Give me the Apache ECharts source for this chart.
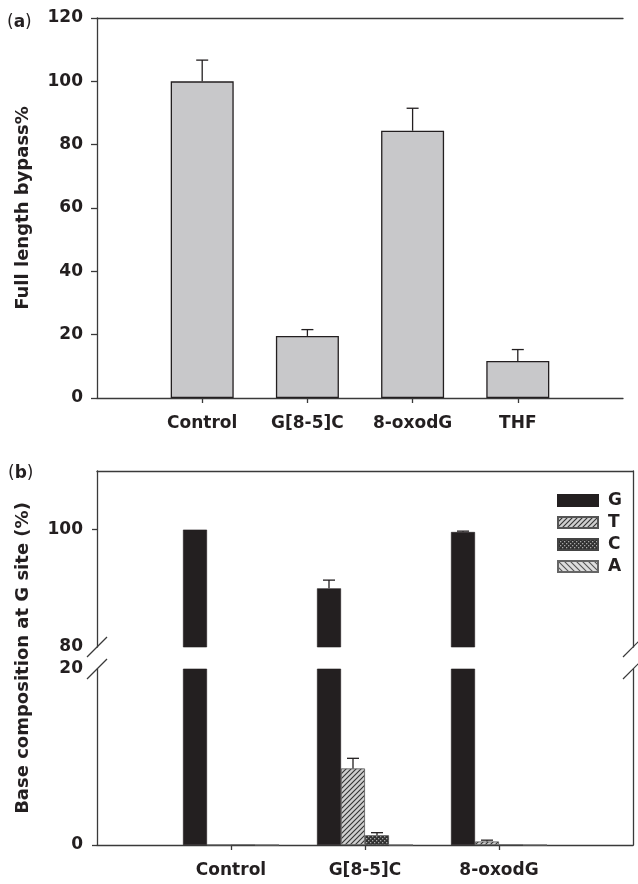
<!DOCTYPE html>
<html><head><meta charset="utf-8">
<script src="https://cdn.jsdelivr.net/npm/echarts@6/dist/echarts.min.js"></script>
<style>html,body{margin:0;padding:0;background:#fff}#c{width:638px;height:884px}</style>
</head><body><div id="c"></div>
<script>
// ---------- data ----------
const catsA = ['Control', 'G[8-5]C', '8-oxodG', 'THF'];
const bypassMean = [100, 19.6, 84.4, 11.7];
const bypassTop = [106.7, 21.6, 91.5, 15.3];
const ticksA = [0, 20, 40, 60, 80, 100, 120];

const catsB = ['Control', 'G[8-5]C', '8-oxodG'];
const bases = ['G', 'T', 'C', 'A'];
const baseG = [100, 90.0, 99.6];
const baseT = [0, 8.7, 0.4];
const baseC = [0, 1.1, 0];
const baseA = [0, 0, 0];
const topG = [100, 91.4, 99.75];
const topT = [0, 9.85, 0.55];
const topC = [0, 1.4, 0];
const topA = [0, 0, 0];
const upperLabels = [80, 100];
const lowerLabels = [0, 20];

// ---------- layout / style ----------
const INK = '#231f20';
const FONT = 'DejaVu Sans';
const FS = 17;
const L = 97;
const A_TOP = 18, A_BOT = 398, A_RIGHT = 623;
const B_TOP = 471, B_MID1 = 647, B_MID2 = 669, B_BOT = 845, B_RIGHT = 633;
const BW = 24;

function pattern(kind) {
  const s = kind === 'C' ? 4 : (kind === 'T' ? 5 : 6);
  const c = document.createElement('canvas'); c.width = c.height = s;
  const g = c.getContext('2d');
  if (kind === 'C') {
    g.fillStyle = '#303030'; g.fillRect(0, 0, s, s);
    g.fillStyle = '#a8a8a8'; g.fillRect(0, 0, 1.3, 1.3); g.fillRect(2, 2, 1.3, 1.3);
  } else {
    g.fillStyle = kind === 'T' ? '#cfcfcf' : '#dedede'; g.fillRect(0, 0, s, s);
    g.strokeStyle = kind === 'T' ? '#333' : '#555'; g.lineWidth = 1.1;
    g.beginPath();
    if (kind === 'T') {
      g.moveTo(-1, s + 1); g.lineTo(s + 1, -1);
      g.moveTo(-1, 1); g.lineTo(1, -1);
      g.moveTo(s - 1, s + 1); g.lineTo(s + 1, s - 1);
    } else {
      g.moveTo(-1, -1); g.lineTo(s + 1, s + 1);
      g.moveTo(s - 1, -1); g.lineTo(s + 1, 1);
      g.moveTo(-1, s - 1); g.lineTo(1, s + 1);
    }
    g.stroke();
  }
  return { image: c, repeat: 'repeat' };
}
const fills = { G: INK, T: pattern('T'), C: pattern('C'), A: pattern('A') };
const borders = { G: INK, T: '#555', C: '#444', A: '#666' };
const valsB = { G: baseG, T: baseT, C: baseC, A: baseA };
const topsB = { G: topG, T: topT, C: topC, A: topA };

const padA = [''].concat(catsA, ['']);
const padB = [''].concat(catsB, ['']);
const lineStyle = { color: '#3a3a3a', width: 1.3 };
const labelStyle = { fontFamily: FONT, fontWeight: 'bold', fontSize: FS, color: INK };

function errRender(pos, n, bw, cap) {
  return function (params, api) {
    const x = api.value(0), v = api.value(1), hi = api.value(2);
    if (!(hi > v)) return { type: 'group', children: [] };
    const p1 = api.coord([x, v]), p2 = api.coord([x, hi]);
    const cx = p1[0] + (pos - (n - 1) / 2) * bw;
    const st = { stroke: INK, lineWidth: 1.3 };
    return { type: 'group', children: [
      { type: 'line', shape: { x1: cx, y1: p1[1], x2: cx, y2: p2[1] }, style: st },
      { type: 'line', shape: { x1: cx - cap / 2, y1: p2[1], x2: cx + cap / 2, y2: p2[1] }, style: st }
    ]};
  };
}

const catTickFn = (n) => (i) => i >= 1 && i <= n;

const xAxis = [
  { gridIndex: 0, type: 'category', data: padA, boundaryGap: false, position: 'bottom',
    axisLine: { lineStyle }, axisTick: { length: 5, lineStyle, interval: catTickFn(catsA.length) },
    axisLabel: Object.assign({ margin: 17, interval: 0 }, labelStyle), splitLine: { show: false } },
  { gridIndex: 0, type: 'category', data: padA, boundaryGap: false, position: 'top',
    axisLine: { lineStyle }, axisTick: { show: false }, axisLabel: { show: false } },
  { gridIndex: 1, type: 'category', data: padB, boundaryGap: false, position: 'top',
    axisLine: { lineStyle }, axisTick: { show: false }, axisLabel: { show: false } },
  { gridIndex: 2, type: 'category', data: padB, boundaryGap: false, position: 'bottom',
    axisLine: { lineStyle }, axisTick: { length: 5, lineStyle, interval: catTickFn(catsB.length) },
    axisLabel: Object.assign({ margin: 17, interval: 0 }, labelStyle) }
];
const yAxis = [
  { gridIndex: 0, type: 'value', min: ticksA[0], max: ticksA[ticksA.length - 1], interval: 20, position: 'left',
    axisLine: { show: true, lineStyle }, axisTick: { show: true, length: 6, lineStyle },
    axisLabel: Object.assign({ margin: 14 }, labelStyle), splitLine: { show: false } },
  { gridIndex: 1, type: 'value', min: 80, max: 110, position: 'left',
    axisLine: { show: true, lineStyle }, axisTick: { show: true, length: 5, lineStyle, customValues: [100] },
    axisLabel: Object.assign({ margin: 14, customValues: upperLabels }, labelStyle), splitLine: { show: false } },
  { gridIndex: 1, type: 'value', min: 80, max: 110, position: 'right',
    axisLine: { show: true, lineStyle }, axisTick: { show: false }, axisLabel: { show: false }, splitLine: { show: false } },
  { gridIndex: 2, type: 'value', min: 0, max: 20, position: 'left',
    axisLine: { show: true, lineStyle }, axisTick: { show: true, length: 5, lineStyle, customValues: [0] },
    axisLabel: Object.assign({ margin: 14, customValues: lowerLabels }, labelStyle), splitLine: { show: false } },
  { gridIndex: 2, type: 'value', min: 0, max: 20, position: 'right',
    axisLine: { show: true, lineStyle }, axisTick: { show: false }, axisLabel: { show: false }, splitLine: { show: false } }
];

const series = [
  { name: 'bypass', type: 'bar', xAxisIndex: 0, yAxisIndex: 0, barWidth: 63,
    data: bypassMean.map((v, i) => [i + 1, v]),
    itemStyle: { color: '#c8c8ca', borderColor: INK, borderWidth: 1.3 } },
  { type: 'custom', xAxisIndex: 0, yAxisIndex: 0, z: 5, renderItem: errRender(0, 1, 0, 12),
    data: bypassMean.map((v, i) => [i + 1, v, bypassTop[i]]) }
];
[[2, 1], [3, 3]].forEach(([xi, yi]) => {
  bases.forEach((b, k) => {
    series.push({ name: b, type: 'bar', xAxisIndex: xi, yAxisIndex: yi, barWidth: BW, barGap: '0%',
      data: valsB[b].map((v, i) => [i + 1, v]),
      itemStyle: { color: fills[b], borderColor: borders[b], borderWidth: b === 'G' ? 0.6 : 0.8 } });
  });
  bases.forEach((b, k) => {
    series.push({ type: 'custom', xAxisIndex: xi, yAxisIndex: yi, z: 5, clip: true,
      renderItem: errRender(k, bases.length, BW, 12),
      data: valsB[b].map((v, i) => [i + 1, v, topsB[b][i]]) });
  });
});

function slash(cx, cy) {
  return { type: 'line', shape: { x1: cx - 10, y1: cy + 10, x2: cx + 10, y2: cy - 10 },
    style: { stroke: '#3a3a3a', lineWidth: 1.2 } };
}
const richLbl = { p: { fontFamily: FONT, fontSize: FS, fill: INK }, b: { fontFamily: FONT, fontSize: FS, fontWeight: 'bold', fill: INK } };
const graphic = [
  { type: 'text', left: 7, top: 14, style: { rich: richLbl, text: '{p|(}{b|a}{p|)}' } },
  { type: 'text', left: 8, top: 465, style: { rich: richLbl, text: '{p|(}{b|b}{p|)}' } },
  { type: 'text', x: 23, y: (A_TOP + A_BOT) / 2, rotation: Math.PI / 2,
    style: { text: 'Full length bypass%', font: 'bold 18px ' + FONT, fill: INK, align: 'center', verticalAlign: 'middle' } },
  { type: 'text', x: 23, y: (B_TOP + B_BOT) / 2, rotation: Math.PI / 2,
    style: { text: 'Base composition at G site (%)', font: 'bold 18px ' + FONT, fill: INK, align: 'center', verticalAlign: 'middle' } },
  slash(L, B_MID1), slash(L, B_MID2), slash(B_RIGHT, B_MID1), slash(B_RIGHT, B_MID2)
];

const chart = echarts.init(document.getElementById('c'), null, { renderer: 'canvas' });
chart.setOption({
  animation: false,
  backgroundColor: '#fff',
  grid: [
    { left: L, top: A_TOP, width: A_RIGHT - L, height: A_BOT - A_TOP },
    { left: L, top: B_TOP, width: B_RIGHT - L, height: B_MID1 - B_TOP },
    { left: L, top: B_MID2, width: B_RIGHT - L, height: B_BOT - B_MID2 }
  ],
  legend: { data: bases, orient: 'vertical', left: 557, top: 492, padding: 0, itemWidth: 40, itemHeight: 11, itemGap: 5,
    selectedMode: false, icon: 'rect',
    textStyle: { fontFamily: FONT, fontWeight: 'bold', fontSize: FS, lineHeight: 17, color: INK, padding: [0, 0, 0, 5] } },
  xAxis, yAxis, series, graphic
});
</script></body></html>
